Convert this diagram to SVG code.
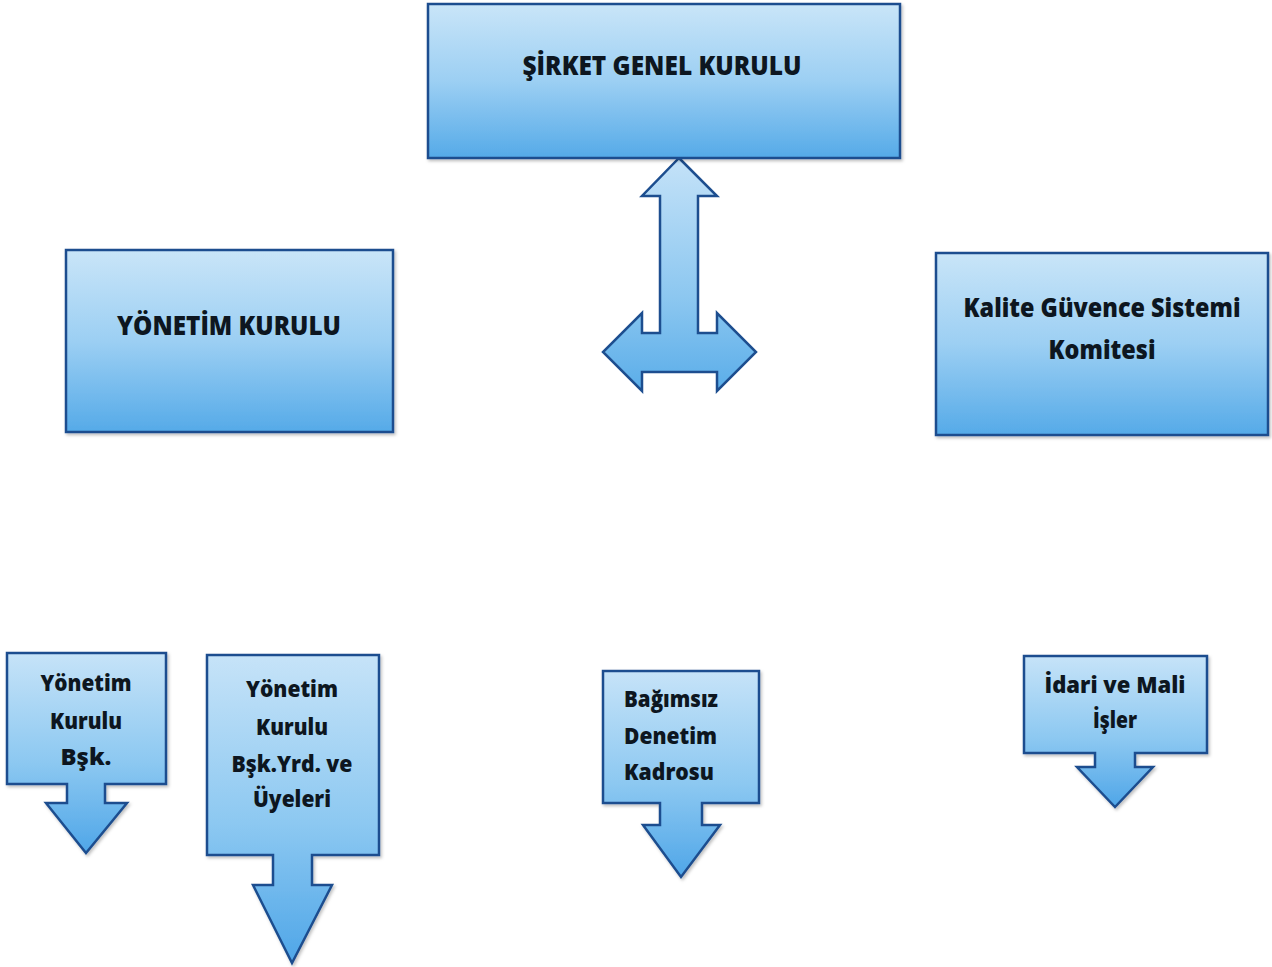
<svg xmlns="http://www.w3.org/2000/svg" width="1272" height="967" viewBox="0 0 1272 967">
<defs>
<linearGradient id="boxGrad" x1="0" y1="0" x2="0" y2="1">
<stop offset="0" stop-color="#c9e5f8"/>
<stop offset="0.5" stop-color="#9ccff3"/>
<stop offset="1" stop-color="#55aae8"/>
</linearGradient>
<linearGradient id="calloutGrad" x1="0" y1="0" x2="0" y2="1">
<stop offset="0" stop-color="#c6e3f8"/>
<stop offset="0.55" stop-color="#8cc8f1"/>
<stop offset="1" stop-color="#4fa6e8"/>
</linearGradient>
<linearGradient id="arrowGrad" x1="0" y1="0" x2="0" y2="1">
<stop offset="0" stop-color="#c4e2f8"/>
<stop offset="0.6" stop-color="#8cc7f0"/>
<stop offset="1" stop-color="#5aade9"/>
</linearGradient>
<filter id="shadow" x="-5%" y="-5%" width="110%" height="115%">
<feDropShadow dx="1.5" dy="2" stdDeviation="1.5" flood-color="#000" flood-opacity="0.25"/>
</filter>
</defs>
<style>
.box{fill:url(#boxGrad);stroke:#1d4e8f;stroke-width:2.5;filter:url(#shadow)}
.callout{fill:url(#calloutGrad);stroke:#1d4e8f;stroke-width:2.5;stroke-linejoin:miter;filter:url(#shadow)}
.conn{fill:url(#arrowGrad);stroke:#1d4e8f;stroke-width:2.5;stroke-linejoin:miter}
.big{font-family:"Open Sans","Noto Sans","Liberation Sans",sans-serif;font-weight:800;font-size:26px;fill:#0d1620}
.small{font-family:"Open Sans","Noto Sans","Liberation Sans",sans-serif;font-weight:800;font-size:22px;fill:#0d1620}
</style>
<rect width="1272" height="967" fill="#ffffff"/>

<g id="connectors">
<path class="conn" d="M679,158 L717,196 L698,196 L698,333 L717,333 L717,313 L756,352 L717,391 L717,372 L642,372 L642,391 L603,352 L642,313 L642,333 L660,333 L660,196 L642,196 Z"/>
</g>

<g id="sirket-genel-kurulu">
<rect class="box" x="428" y="4" width="472" height="154"/>
<text class="big" x="662" y="75" text-anchor="middle" textLength="279" lengthAdjust="spacingAndGlyphs">ŞİRKET GENEL KURULU</text>
</g>

<g id="yonetim-kurulu">
<rect class="box" x="66" y="250" width="327" height="182"/>
<text class="big" x="229" y="335" text-anchor="middle" textLength="224" lengthAdjust="spacingAndGlyphs">YÖNETİM KURULU</text>
</g>

<g id="kalite-guvence">
<rect class="box" x="936" y="253" width="332" height="182"/>
<text class="big" x="1102" y="317" text-anchor="middle" textLength="277" lengthAdjust="spacingAndGlyphs">Kalite Güvence Sistemi</text>
<text class="big" x="1102" y="359" text-anchor="middle" textLength="107" lengthAdjust="spacingAndGlyphs">Komitesi</text>
</g>

<g id="yonetim-kurulu-bsk">
<path class="callout" d="M7,653 H166 V784 H105 V803 H127 L86,853 L46,803 H67 V784 H7 Z"/>
<text class="small" x="86" y="691" text-anchor="middle" textLength="91" lengthAdjust="spacingAndGlyphs">Yönetim</text>
<text class="small" x="86" y="729" text-anchor="middle" textLength="72" lengthAdjust="spacingAndGlyphs">Kurulu</text>
<text class="small" x="86" y="765" text-anchor="middle" textLength="51" lengthAdjust="spacingAndGlyphs">Bşk.</text>
</g>

<g id="yonetim-kurulu-bsk-yrd">
<path class="callout" d="M207,655 H379 V855 H312 V885 H332 L292,963 L253,885 H273 V855 H207 Z"/>
<text class="small" x="292" y="697" text-anchor="middle" textLength="92" lengthAdjust="spacingAndGlyphs">Yönetim</text>
<text class="small" x="292" y="735" text-anchor="middle" textLength="72" lengthAdjust="spacingAndGlyphs">Kurulu</text>
<text class="small" x="292" y="772" text-anchor="middle" textLength="121" lengthAdjust="spacingAndGlyphs">Bşk.Yrd. ve</text>
<text class="small" x="292" y="807" text-anchor="middle" textLength="78" lengthAdjust="spacingAndGlyphs">Üyeleri</text>
</g>

<g id="bagimsiz-denetim">
<path class="callout" d="M603,671 H759 V803 H702 V825 H720 L681,877 L643,825 H660 V803 H603 Z"/>
<text class="small" x="624" y="707" textLength="94" lengthAdjust="spacingAndGlyphs">Bağımsız</text>
<text class="small" x="624" y="744" textLength="93" lengthAdjust="spacingAndGlyphs">Denetim</text>
<text class="small" x="624" y="780" textLength="90" lengthAdjust="spacingAndGlyphs">Kadrosu</text>
</g>

<g id="idari-mali-isler">
<path class="callout" d="M1024,656 H1207 V753 H1135 V767 H1153 L1115,807 L1077,767 H1095 V753 H1024 Z"/>
<text class="small" x="1115" y="693" text-anchor="middle" textLength="141" lengthAdjust="spacingAndGlyphs">İdari ve Mali</text>
<text class="small" x="1115" y="728" text-anchor="middle" textLength="44" lengthAdjust="spacingAndGlyphs">İşler</text>
</g>
</svg>
